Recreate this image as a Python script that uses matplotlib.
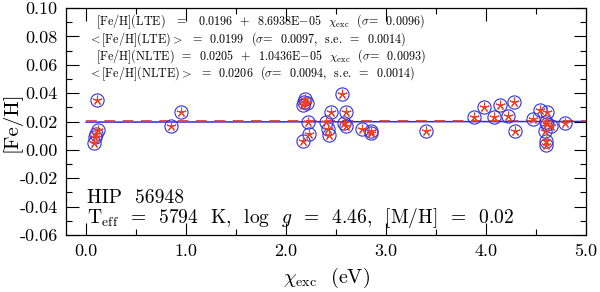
import numpy as np
import matplotlib
matplotlib.use("Agg")
import matplotlib.pyplot as plt
from matplotlib.ticker import MultipleLocator, FormatStrFormatter

plt.rcParams['font.family'] = 'serif'
plt.rcParams['font.serif'] = ['cmr10', 'DejaVu Serif']
plt.rcParams['mathtext.fontset'] = 'cm'
plt.rcParams['axes.formatter.use_mathtext'] = True
plt.rcParams['axes.unicode_minus'] = True

# line excitation potentials (eV) and [Fe/H] abundances
chi_exc = [0.08, 0.09, 0.10, 0.11, 0.12, 0.85, 0.95,
           2.17, 2.18, 2.19, 2.21, 2.22, 2.23, 2.17,
           2.40, 2.42, 2.43, 2.45, 2.56, 2.58, 2.60, 2.60,
           2.76, 2.85, 2.85, 3.40,
           3.88, 3.98, 4.08, 4.14, 4.22, 4.28, 4.29,
           4.47, 4.54, 4.61, 4.60, 4.61, 4.65, 4.59, 4.60, 4.60, 4.79]
feh = [0.005, 0.009, 0.011, 0.035, 0.014, 0.017, 0.027,
       0.032, 0.034, 0.036, 0.033, 0.020, 0.011, 0.006,
       0.020, 0.015, 0.0105, 0.0265, 0.0395, 0.019, 0.027, 0.017,
       0.015, 0.012, 0.013, 0.013,
       0.023, 0.030, 0.0235, 0.032, 0.024, 0.0335, 0.0136,
       0.0216, 0.028, 0.0265, 0.020, 0.018, 0.0165, 0.013, 0.0066, 0.0035, 0.019]

# fits
lte_fit = (0.0196, 8.6938e-05)
nlte_fit = (0.0205, 1.0436e-05)
fit_range = [0.0, 5.0]

fig = plt.figure(figsize=(6.0, 2.92), dpi=100)
ax = fig.add_axes([0.11, 0.195, 0.8667, 0.7776])

xx = np.array(fit_range)
ax.plot(xx, lte_fit[0] + lte_fit[1] * xx, color='#2a2ad8', lw=1.1, zorder=2)
ax.plot(xx, nlte_fit[0] + nlte_fit[1] * xx, color='#e04848', lw=1.1,
        dashes=(7, 5), zorder=3)

ax.plot(chi_exc, feh, linestyle='none', marker='o', markersize=9.5,
        markerfacecolor='none', markeredgecolor='#3030e0', markeredgewidth=0.8, zorder=4)
ax.plot(chi_exc, feh, linestyle='none', marker=(5, 2, 0), markersize=7,
        color='#ec4024', markeredgewidth=0.8, zorder=5)

ax.set_xlim(-0.2, 5.0)
ax.set_ylim(-0.06, 0.10)
ax.xaxis.set_major_locator(MultipleLocator(1.0))
ax.xaxis.set_minor_locator(MultipleLocator(0.5))
ax.yaxis.set_major_locator(MultipleLocator(0.02))
ax.yaxis.set_minor_locator(MultipleLocator(0.01))
ax.xaxis.set_major_formatter(FormatStrFormatter('%.1f'))
ax.yaxis.set_major_formatter(FormatStrFormatter('%.2f'))
ax.tick_params(which='both', direction='in', top=True, right=True, width=0.8)
ax.tick_params(which='major', length=9, labelsize=13, pad=6)
ax.tick_params(which='minor', length=4.5)
for s in ax.spines.values():
    s.set_linewidth(0.9)

ax.set_xlabel(r'$\chi_{\rm exc}$  (eV)', fontsize=14.5, labelpad=5)
ax.set_ylabel('[Fe/H]', fontsize=15)
ax.yaxis.set_label_coords(-0.085, 0.5)

fs = 8.7
ax.text(0.058, 0.938, r'[Fe/H](LTE)   =   0.0196  +  8.6938E$-$05  $\chi_{\rm exc}$  ($\sigma$=  0.0096)',
        transform=ax.transAxes, fontsize=fs, va='center')
ax.text(0.042, 0.862, r'$<$[Fe/H](LTE)$>$  =  0.0199  ($\sigma$=  0.0097,  s.e.  =  0.0014)',
        transform=ax.transAxes, fontsize=fs, va='center')
ax.text(0.058, 0.786, r'[Fe/H](NLTE)  =  0.0205  +  1.0436E$-$05  $\chi_{\rm exc}$  ($\sigma$=  0.0093)',
        transform=ax.transAxes, fontsize=fs, va='center')
ax.text(0.042, 0.710, r'$<$[Fe/H](NLTE)$>$  =  0.0206  ($\sigma$=  0.0094,  s.e.  =  0.0014)',
        transform=ax.transAxes, fontsize=fs, va='center')

ax.text(0.040, 0.141, 'HIP  56948', transform=ax.transAxes, fontsize=14, va='baseline')
ax.text(0.040, 0.055, r'T$_{\rm eff}$  =  5794  K,  log  $g$  =  4.46,  [M/H]  =  0.02',
        transform=ax.transAxes, fontsize=14, va='baseline')

fig.savefig('out.png', dpi=100)
